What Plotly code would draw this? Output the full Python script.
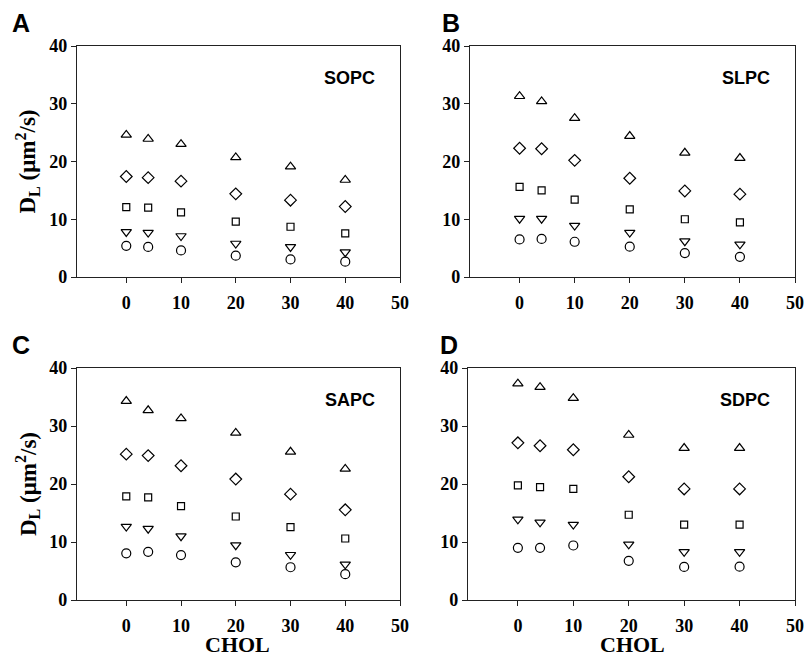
import plotly.graph_objects as go

chol = [0, 4, 10, 20, 30, 40]

# Panel A: SOPC
sopc_tri_up = [24.6, 23.9, 23.0, 20.7, 19.1, 16.8]
sopc_diamond = [17.4, 17.2, 16.6, 14.4, 13.3, 12.2]
sopc_square = [12.1, 12.0, 11.2, 9.6, 8.7, 7.55]
sopc_tri_down = [7.8, 7.7, 7.1, 5.8, 5.2, 4.3]
sopc_circle = [5.4, 5.2, 4.6, 3.7, 3.05, 2.65]

# Panel B: SLPC
slpc_tri_up = [31.3, 30.4, 27.5, 24.4, 21.5, 20.6]
slpc_diamond = [22.3, 22.2, 20.2, 17.1, 14.9, 14.35]
slpc_square = [15.6, 15.0, 13.4, 11.7, 10.0, 9.45]
slpc_tri_down = [10.1, 10.1, 8.9, 7.7, 6.2, 5.65]
slpc_circle = [6.5, 6.6, 6.1, 5.25, 4.15, 3.5]

# Panel C: SAPC
sapc_tri_up = [34.3, 32.7, 31.3, 28.8, 25.55, 22.6]
sapc_diamond = [25.15, 24.9, 23.15, 20.85, 18.25, 15.55]
sapc_square = [17.85, 17.7, 16.2, 14.4, 12.55, 10.6]
sapc_tri_down = [12.65, 12.3, 11.0, 9.45, 7.8, 6.15]
sapc_circle = [8.05, 8.3, 7.75, 6.5, 5.65, 4.45]

# Panel D: SDPC
sdpc_tri_up = [37.3, 36.7, 34.8, 28.45, 26.2, 26.2]
sdpc_diamond = [27.1, 26.6, 25.9, 21.25, 19.15, 19.15]
sdpc_square = [19.75, 19.45, 19.15, 14.7, 13.0, 13.0]
sdpc_tri_down = [13.9, 13.4, 13.0, 9.6, 8.3, 8.3]
sdpc_circle = [9.0, 9.0, 9.4, 6.75, 5.7, 5.75]

panel_names = ["SOPC", "SLPC", "SAPC", "SDPC"]
panel_letters = ["A", "B", "C", "D"]
x_ticks = [0, 10, 20, 30, 40, 50]
y_ticks = [0, 10, 20, 30, 40]

panels = [
    [sopc_tri_up, sopc_diamond, sopc_square, sopc_tri_down, sopc_circle],
    [slpc_tri_up, slpc_diamond, slpc_square, slpc_tri_down, slpc_circle],
    [sapc_tri_up, sapc_diamond, sapc_square, sapc_tri_down, sapc_circle],
    [sdpc_tri_up, sdpc_diamond, sdpc_square, sdpc_tri_down, sdpc_circle],
]
symbols = ["triangle-up-open", "diamond-open", "square-open", "triangle-down-open", "circle-open"]
sizes = [9, 9, 7, 9, 9]

W, H = 804, 657


def px(x):
    return x / W


def py(y):
    return 1 - y / H


# pixel boxes of plot areas in window coords (left, right, top, bottom)
boxes = [(77, 400, 46, 277), (470, 795, 46, 277), (77, 400, 368, 600), (468, 795, 368, 600)]

fig = go.Figure()
serif = "Liberation Serif, Times New Roman, serif"
sans = "Liberation Sans, Arial, sans-serif"

for i, series in enumerate(panels):
    xa = "x" if i == 0 else f"x{i+1}"
    ya = "y" if i == 0 else f"y{i+1}"
    for s, vals in enumerate(series):
        fig.add_trace(go.Scatter(
            x=chol, y=vals, mode="markers", xaxis=xa, yaxis=ya, showlegend=False,
            marker=dict(symbol=symbols[s], size=sizes[s], color="black",
                        line=dict(width=1.2, color="black")),
        ))

axis_common = dict(
    showline=True, mirror=True, linecolor="#222", linewidth=1.3,
    ticks="outside", ticklen=5, tickwidth=1.2, tickcolor="#222",
    showgrid=False, zeroline=False, automargin=False,
    tickfont=dict(family=serif, size=18, color="black", weight="bold"),
)

layout = dict(width=W, height=H, margin=dict(l=0, r=0, t=0, b=0, autoexpand=False),
              plot_bgcolor="white", paper_bgcolor="white", showlegend=False)
annotations = []
for i, (l, r, t, b) in enumerate(boxes):
    sfx = "" if i == 0 else str(i + 1)
    xd = [px(l), px(r)]
    yd = [py(b), py(t)]
    layout["xaxis" + sfx] = dict(axis_common, domain=xd, range=[-9, 50], tickvals=x_ticks,
                                 anchor="y" + sfx, ticklabelstandoff=4)
    layout["yaxis" + sfx] = dict(axis_common, domain=yd, range=[0, 40], tickvals=y_ticks,
                                 anchor="x" + sfx)
    # panel name
    annotations.append(dict(text=panel_names[i], xref="x" + sfx + " domain", yref="y" + sfx + " domain",
                            x=0.93, y=0.86, xanchor="right", yanchor="middle", showarrow=False,
                            font=dict(family=sans, size=18, color="black", weight="bold")))
    # panel letter
    annotations.append(dict(text=panel_letters[i], xref="paper", yref="paper",
                            x=px(l - 67) if i % 2 == 0 else px(l - 30),
                            y=py(t - 23), xanchor="left", yanchor="middle",
                            showarrow=False,
                            font=dict(family=sans, size=25, color="black", weight="bold")))

ylabel = "D<sub>L</sub> (μm<sup>2</sup>/s)"
for (t, b) in [(46, 277), (368, 600)]:
    annotations.append(dict(text=ylabel, xref="paper", yref="paper", x=px(27), y=py((t + b) / 2),
                            textangle=-90, showarrow=False, xanchor="center", yanchor="middle",
                            font=dict(family=serif, size=23, color="black", weight="bold")))
for cx in [237, 632]:
    annotations.append(dict(text="CHOL", xref="paper", yref="paper", x=px(cx), y=py(644),
                            showarrow=False, xanchor="center", yanchor="middle",
                            font=dict(family=serif, size=22, color="black", weight="bold")))
layout["annotations"] = annotations
fig.update_layout(**layout)
fig.write_html(
    "out.html",
    config={"displayModeBar": False},
    post_script="document.body.style.margin='0';document.body.style.overflow='hidden';",
)
